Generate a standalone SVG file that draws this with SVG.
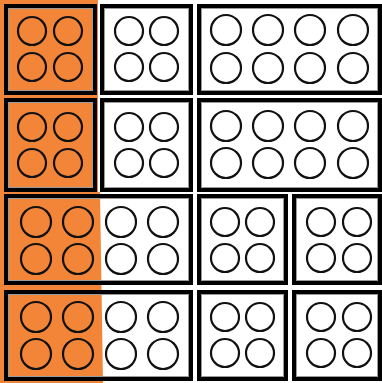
<svg xmlns="http://www.w3.org/2000/svg" width="382" height="383" viewBox="0 0 382 383">
<style>
.b{fill:none;stroke:#000;stroke-width:4}
.g{fill:none;stroke:#9a9a9a;stroke-width:1}
.c{fill:none;stroke:#111;stroke-width:2.2}
</style>
<rect x="0" y="0" width="382" height="383" fill="#fff"/>
<polygon points="0,0 98,0 98,192 100,192 103,383 0,383" fill="#F28538"/>
<g id="r1c1"><rect class="b" x="6" y="6" width="89" height="87"/><rect class="g" x="8.5" y="8.5" width="84" height="82"/>
<circle class="c" cx="32" cy="31" r="14"/><circle class="c" cx="68" cy="31" r="14"/><circle class="c" cx="32" cy="67" r="14"/><circle class="c" cx="68" cy="67" r="14"/></g>
<g id="r1c2"><rect class="b" x="102" y="6" width="89" height="87"/><rect class="g" x="104.5" y="8.5" width="84" height="82"/>
<circle class="c" cx="129" cy="31" r="14"/><circle class="c" cx="164" cy="31" r="14"/><circle class="c" cx="129" cy="67" r="14"/><circle class="c" cx="164" cy="67" r="14"/></g>
<g id="r1c3"><rect class="b" x="199" y="6" width="181" height="87"/><rect class="g" x="201.5" y="8.5" width="176" height="82"/>
<circle class="c" cx="226" cy="30" r="15"/><circle class="c" cx="268" cy="30" r="15"/><circle class="c" cx="310" cy="30" r="15"/><circle class="c" cx="353" cy="30" r="15"/>
<circle class="c" cx="226" cy="68" r="15"/><circle class="c" cx="268" cy="68" r="15"/><circle class="c" cx="310" cy="68" r="15"/><circle class="c" cx="353" cy="68" r="15"/></g>
<g id="r2c1"><rect class="b" x="6" y="100" width="89" height="90"/><rect class="g" x="8.5" y="102.5" width="84" height="85"/>
<circle class="c" cx="32" cy="127" r="14"/><circle class="c" cx="68" cy="127" r="14"/><circle class="c" cx="32" cy="163" r="14"/><circle class="c" cx="68" cy="163" r="14"/></g>
<g id="r2c2"><rect class="b" x="102" y="100" width="89" height="90"/><rect class="g" x="104.5" y="102.5" width="84" height="85"/>
<circle class="c" cx="129" cy="127" r="14"/><circle class="c" cx="164" cy="127" r="14"/><circle class="c" cx="129" cy="163" r="14"/><circle class="c" cx="164" cy="163" r="14"/></g>
<g id="r2c3"><rect class="b" x="199" y="100" width="181" height="90"/><rect class="g" x="201.5" y="102.5" width="176" height="85"/>
<circle class="c" cx="226" cy="126" r="15"/><circle class="c" cx="268" cy="126" r="15"/><circle class="c" cx="310" cy="126" r="15"/><circle class="c" cx="353" cy="126" r="15"/>
<circle class="c" cx="226" cy="163" r="15"/><circle class="c" cx="268" cy="163" r="15"/><circle class="c" cx="310" cy="163" r="15"/><circle class="c" cx="353" cy="163" r="15"/></g>
<g id="r3c1"><rect class="b" x="6" y="196" width="185" height="87"/><rect class="g" x="8.5" y="198.5" width="180" height="82"/>
<circle class="c" cx="36" cy="222" r="15"/><circle class="c" cx="78" cy="222" r="15"/><circle class="c" cx="121" cy="222" r="15"/><circle class="c" cx="163" cy="222" r="15"/>
<circle class="c" cx="36" cy="259" r="15"/><circle class="c" cx="78" cy="259" r="15"/><circle class="c" cx="121" cy="259" r="15"/><circle class="c" cx="163" cy="259" r="15"/></g>
<g id="r3c3"><rect class="b" x="199" y="196" width="87" height="87"/><rect class="g" x="201.5" y="198.5" width="82" height="82"/>
<circle class="c" cx="225" cy="222" r="14"/><circle class="c" cx="260" cy="222" r="14"/><circle class="c" cx="225" cy="258" r="14"/><circle class="c" cx="260" cy="258" r="14"/></g>
<g id="r3c4"><rect class="b" x="294" y="196" width="86" height="87"/><rect class="g" x="296.5" y="198.5" width="81" height="82"/>
<circle class="c" cx="321" cy="222" r="14"/><circle class="c" cx="357" cy="222" r="14"/><circle class="c" cx="321" cy="258" r="14"/><circle class="c" cx="357" cy="258" r="14"/></g>
<g id="r4c1"><rect class="b" x="6" y="292" width="185" height="87"/><rect class="g" x="8.5" y="294.5" width="180" height="82"/>
<circle class="c" cx="36" cy="317" r="15"/><circle class="c" cx="78" cy="317" r="15"/><circle class="c" cx="121" cy="317" r="15"/><circle class="c" cx="163" cy="317" r="15"/>
<circle class="c" cx="36" cy="354" r="15"/><circle class="c" cx="78" cy="354" r="15"/><circle class="c" cx="121" cy="354" r="15"/><circle class="c" cx="163" cy="354" r="15"/></g>
<g id="r4c3"><rect class="b" x="199" y="292" width="87" height="87"/><rect class="g" x="201.5" y="294.5" width="82" height="82"/>
<circle class="c" cx="225" cy="317" r="14"/><circle class="c" cx="260" cy="317" r="14"/><circle class="c" cx="225" cy="353" r="14"/><circle class="c" cx="260" cy="353" r="14"/></g>
<g id="r4c4"><rect class="b" x="294" y="292" width="86" height="87"/><rect class="g" x="296.5" y="294.5" width="81" height="82"/>
<circle class="c" cx="321" cy="317" r="14"/><circle class="c" cx="357" cy="317" r="14"/><circle class="c" cx="321" cy="353" r="14"/><circle class="c" cx="357" cy="353" r="14"/></g>
</svg>
